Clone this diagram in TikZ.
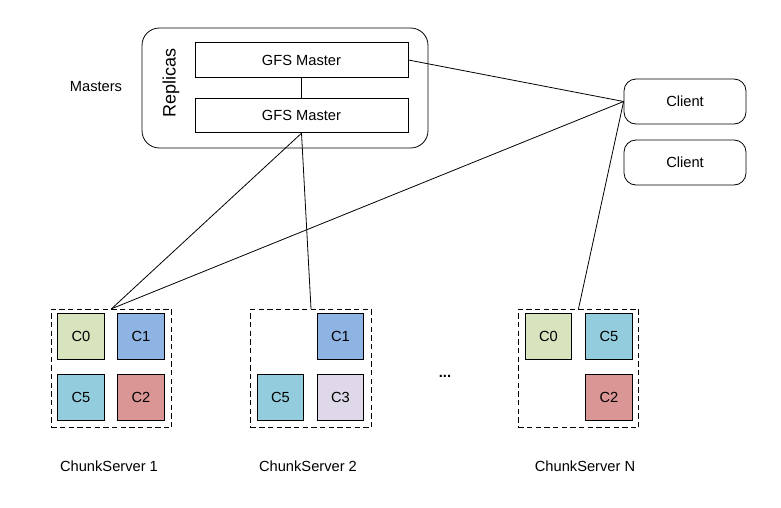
\documentclass[tikz,border=0pt]{standalone}
\usepackage{fontspec}
\setmainfont{Liberation Sans}
\usepackage{tikz}
\usetikzlibrary{positioning}
\tikzset{txt/.style = {font = \fontsize{11}{13}\selectfont}}
\tikzset{master/.style = {draw, txt, inner sep = 0, minimum width = 159.75pt, minimum height = 26pt}}
\tikzset{client/.style = {draw, txt, rounded corners = 9pt, inner sep = 0, minimum width = 91.5pt, minimum height = 33.75pt}}
\tikzset{server/.style = {draw, dashed, dash pattern = on 4pt off 2.5pt, inner sep = 0, minimum width = 90.5pt, minimum height = 89pt}}
\tikzset{chunk/.style = {draw, txt, inner sep = 0, minimum size = 35pt}}
\definecolor{cgreen}{HTML}{D7E4BD}
\definecolor{cblue}{HTML}{8EB4E3}
\definecolor{ccyan}{HTML}{93CDDD}
\definecolor{cred}{HTML}{D99694}
\definecolor{clilac}{HTML}{DED8E8}

\begin{document}
\begin{tikzpicture}[x = 0.75pt, y = -0.75pt, line width = 0.6pt]
      \useasboundingbox (0, 0) rectangle (781, 507);
      % masters
      \node [draw, rounded corners = 13pt, minimum width = 214.5pt, minimum height = 90pt] (masterbox) at (285, 88) {};
      \node [txt] (masterslbl) at (96, 87) {Masters};
      \node [rotate = 90, font = \fontsize{13.5}{15}\selectfont] (replicas) at (171, 83) {Replicas};
      \node [master] (gfsa) at (301.5, 60) {GFS Master};
      \node [master] (gfsb) at (301.5, 115.5) {GFS Master};
      % clients
      \node [client] (clienta) at (685, 101.5) {Client};
      \node [client] (clientb) at (685, 162.5) {Client};
      % chunk servers
      \node [server] (csa) at (111.5, 368.5) {};
      \node [server] (csb) at (311, 368.5) {};
      \node [server] (csn) at (578.5, 368.5) {};
      \foreach \n/\x/\y/\c/\t in {a0/81/336.5/cgreen/C0, a1/141/336.5/cblue/C1, a5/81/397.5/ccyan/C5, a2/141/397.5/cred/C2,
                                   b1/340.5/336.5/cblue/C1, b5/280.5/397.5/ccyan/C5, b3/340.5/397.5/clilac/C3,
                                   n0/548.5/336.5/cgreen/C0, n5/609/336.5/ccyan/C5, n2/609/397.5/cred/C2} {
        \node [chunk, fill = \c] (chunk\n) at (\x, \y) {\t};
      }
      \node [txt, font = \fontsize{11}{13}\selectfont\bfseries] (dots) at (445, 376) {...};
      \node [txt] (csalbl) at (109, 466) {ChunkServer 1};
      \node [txt] (csblbl) at (308, 466) {ChunkServer 2};
      \node [txt] (csnlbl) at (585, 466) {ChunkServer N};
      % connections
      \draw (gfsa) -- (gfsb);
      \draw (gfsa.east) -- (clienta.west);
      \draw (clienta.west) -- (csa.north);
      \draw (gfsb.south) -- (csa.north);
      \draw (gfsb.south) -- (csb.north);
      \draw (clienta.west) -- (csn.north);
    \end{tikzpicture}
\end{document}
